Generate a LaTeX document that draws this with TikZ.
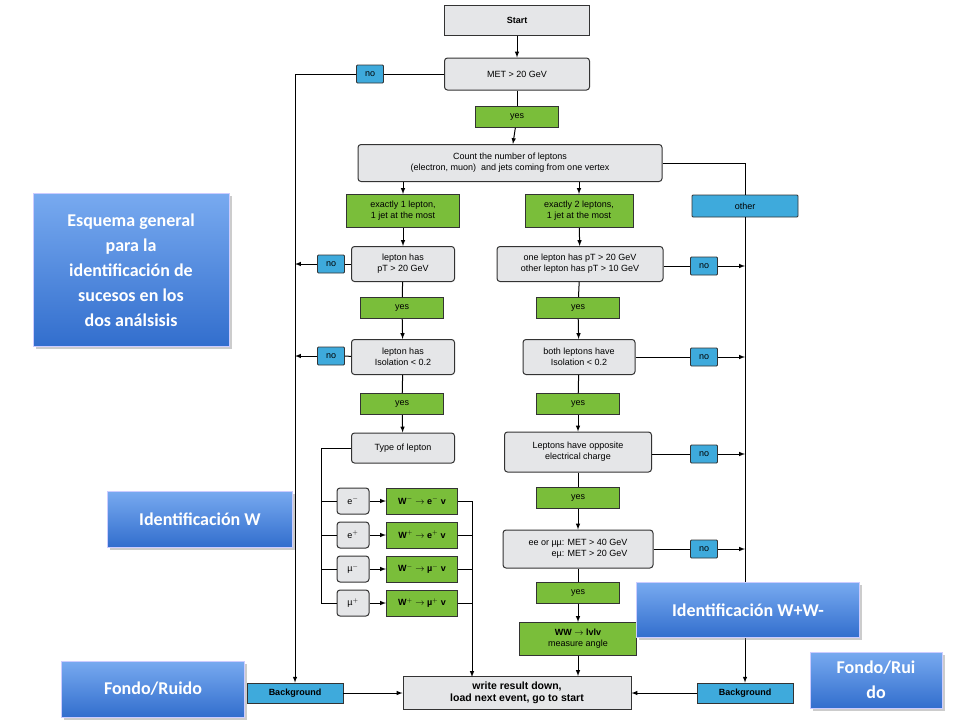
\documentclass[tikz,border=0pt]{standalone}
\usepackage{fontspec}
\setmainfont{Liberation Sans}
\newfontfamily\calib{Carlito}
\usetikzlibrary{arrows,positioning,shadows}

\definecolor{boxgray}{RGB}{229,230,232}
\definecolor{yesgreen}{RGB}{122,190,58}
\definecolor{noblue}{RGB}{62,170,220}
\definecolor{ovtop}{RGB}{120,170,240}
\definecolor{ovbot}{RGB}{50,110,205}

\tikzset{
  stage/.style={draw=black!80, line width=1pt, fill=boxgray, rounded corners=3pt, inner sep=0pt, align=center, font=\fontsize{9}{11}\selectfont},
  yesbox/.style={draw=black!80, line width=1pt, fill=yesgreen, inner sep=0pt, minimum width=83pt, minimum height=21pt, font=\fontsize{9}{11}\selectfont},
  nobox/.style={draw=black!80, line width=0.8pt, fill=noblue, rounded corners=1pt, inner sep=0pt, minimum width=27pt, minimum height=18pt, font=\fontsize{9}{11}\selectfont},
  wbox/.style={draw=black!80, line width=1pt, fill=yesgreen, inner sep=0pt, minimum width=71pt, minimum height=26pt, font=\bfseries\fontsize{9}{11}\selectfont},
  lepbox/.style={stage, minimum width=32pt, minimum height=26pt},
  banner/.style={draw=white!80!blue, line width=0.8pt, top color=ovtop, bottom color=ovbot, drop shadow={opacity=0.4}, text=white, align=center, inner sep=0pt, font=\calib\bfseries\fontsize{18}{25}\selectfont},
  conn/.style={line width=1pt},
  arr/.style={line width=1pt, -latex}
}

\begin{document}
\begin{tikzpicture}[x=1pt, y=-1pt]
  \useasboundingbox (0,0) rectangle (960,720);

  % main column
  \node[stage, rounded corners=0pt, minimum width=145pt, minimum height=30pt] (start) at (517,20) {\textbf{Start}};
  \node[stage, minimum width=145pt, minimum height=32pt] (met) at (517,74) {MET > 20 GeV};
  \node[nobox] (nomet) at (370,74) {no};
  \node[yesbox] (yesmet) at (517,117) {yes};
  \node[stage, minimum width=304pt, minimum height=37pt] (count) at (510,163) {Count the number of leptons\\(electron, muon) \ and jets coming from one vertex};

  % one lepton branch
  \node[yesbox, minimum width=113pt, minimum height=33pt, align=center] (one) at (403,211) {exactly 1 lepton,\\1 jet at the most};
  \node[stage, minimum width=103pt, minimum height=35pt] (pt1) at (403,264) {lepton has\\pT > 20 GeV};
  \node[nobox] (nopt1) at (331,264) {no};
  \node[yesbox] (yespt1) at (402,308) {yes};
  \node[stage, minimum width=103pt, minimum height=35pt] (iso1) at (403,357) {lepton has\\Isolation < 0.2};
  \node[nobox] (noiso1) at (331,356) {no};
  \node[yesbox] (yesiso1) at (402,404) {yes};
  \node[stage, minimum width=103pt, minimum height=30pt] (type) at (403,448) {Type of lepton};

  % lepton types
  \foreach \n/\y/\l/\w in {em/501/e$^{-}$/W$^{-}$ $\rightarrow$ e$^{-}$ v,
                          ep/535/e$^{+}$/W$^{+}$ $\rightarrow$ e$^{+}$ v,
                          mm/569/µ$^{-}$/W$^{-}$ $\rightarrow$ µ$^{-}$ v,
                          mp/603/µ$^{+}$/W$^{+}$ $\rightarrow$ µ$^{+}$ v} {
    \node[lepbox] (l\n) at (353,\y) {\l};
    \node[wbox] (w\n) at (422,\y) {\w};
    \draw[arr] (l\n) -- (w\n);
    \draw[conn] (l\n.west) -- (321,\y);
    \draw[conn] (w\n.east) -- (472,\y);
  }
  \draw[conn] (type.west) -| (321,603);

  % two lepton branch
  \node[yesbox, minimum width=108pt, minimum height=33pt, align=center] (two) at (579,211) {exactly 2 leptons,\\1 jet at the most};
  \node[stage, minimum width=166pt, minimum height=35pt] (pt2) at (580,264) {one lepton has pT > 20 GeV\\other lepton has pT > 10 GeV};
  \node[nobox] (nopt2) at (704,266) {no};
  \node[yesbox] (yespt2) at (578,308) {yes};
  \node[stage, minimum width=112pt, minimum height=35pt] (iso2) at (579,357) {both leptons have\\Isolation < 0.2};
  \node[nobox] (noiso2) at (704,357) {no};
  \node[yesbox] (yesiso2) at (578,404) {yes};
  \node[stage, minimum width=147pt, minimum height=40pt] (charge) at (578,452) {Leptons have opposite\\electrical charge};
  \node[nobox] (nocharge) at (704,454) {no};
  \node[yesbox] (yescharge) at (578,498) {yes};
  \node[stage, minimum width=150pt, minimum height=38pt, align=right] (metcut) at (578,549) {ee or µµ: MET > 40 GeV\\eµ: MET > 20 GeV};
  \node[nobox] (nometcut) at (704,549) {no};
  \node[yesbox] (yesmetcut) at (578,593) {yes};
  \node[wbox, minimum width=117pt, minimum height=33pt, align=center, font=\fontsize{9}{11}\selectfont] (ww) at (578,639) {\textbf{WW $\rightarrow$ lvlv}\\measure angle};

  % other branch and end
  \node[nobox, minimum width=106pt, minimum height=22pt] (other) at (745,206) {other};
  \node[stage, rounded corners=0pt, minimum width=228pt, minimum height=33pt, font=\bfseries\fontsize{10.5}{12.5}\selectfont] (write) at (517,693) {write result down,\\load next event, go to start};
  \node[nobox, rounded corners=0pt, minimum width=96pt, minimum height=20pt, font=\bfseries\fontsize{9}{11}\selectfont] (bgl) at (295,693) {Background};
  \node[nobox, rounded corners=0pt, minimum width=96pt, minimum height=20pt, font=\bfseries\fontsize{9}{11}\selectfont] (bgr) at (745,693) {Background};

  % connectors
  \draw[arr] (start) -- (met);
  \draw[conn] (met) -- (yesmet);
  \draw[arr] (yesmet) -- (count);
  \draw[conn] (met) -- (nomet);
  \draw[arr] (nomet.west) -| (bgl.north);
  \draw[arr] (count.south -| one) -- (one);
  \draw[arr] (count.south -| two) -- (two);
  \draw[conn] (count.east) -| (other);
  \draw[arr] (other) -- (bgr);
  \draw[arr] (one) -- (pt1);
  \draw[conn] (pt1) -- (yespt1);
  \draw[arr] (yespt1) -- (iso1);
  \draw[conn] (iso1) -- (yesiso1);
  \draw[arr] (yesiso1) -- (type);
  \draw[conn] (pt1) -- (nopt1);
  \draw[arr] (nopt1.west) -- (295,264);
  \draw[conn] (iso1) -- (noiso1);
  \draw[arr] (noiso1.west) -- (295,356);
  \draw[arr] (472,501) -- (472,677);
  \draw[arr] (two) -- (pt2);
  \draw[conn] (pt2) -- (yespt2);
  \draw[arr] (yespt2) -- (iso2);
  \draw[conn] (iso2) -- (yesiso2);
  \draw[arr] (yesiso2) -- (charge);
  \draw[conn] (charge) -- (yescharge);
  \draw[arr] (yescharge) -- (metcut);
  \draw[conn] (metcut) -- (yesmetcut);
  \draw[arr] (yesmetcut) -- (ww);
  \draw[arr] (ww) -- (ww |- write.north);
  \foreach \n in {pt2,iso2,charge,metcut} {
    \draw[conn] (\n.east |- no\n) -- (no\n);
    \draw[arr] (no\n.east) -- (745,0 |- no\n);
  }
  \draw[arr] (bgl) -- (write);
  \draw[arr] (bgr) -- (write);

  % banners
  \node[banner, minimum width=196pt, minimum height=153pt] (esquema) at (131,270) {Esquema general\\para la\\identificación de\\sucesos en los\\dos análsisis};
  \node[banner, minimum width=185pt, minimum height=56pt] (idw) at (200,519) {Identificación W};
  \node[banner, minimum width=223pt, minimum height=55pt] (idww) at (748,610) {Identificación W+W-};
  \node[banner, minimum width=183pt, minimum height=56pt] (fondo) at (153,689) {Fondo/Ruido};
  \node[banner, minimum width=132pt, minimum height=56pt] (fondor) at (876,680) {Fondo/Rui\\do};
\end{tikzpicture}
\end{document}
